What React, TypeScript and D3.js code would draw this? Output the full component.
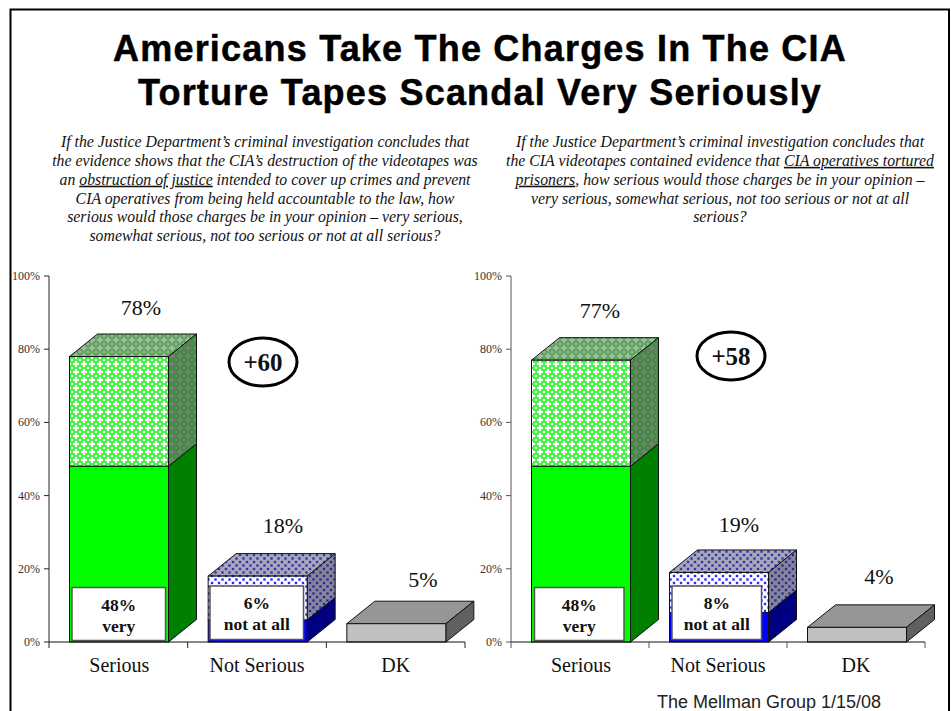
import * as d3 from "d3";

const titleLines = ["Americans Take The Charges In The CIA", "Torture Tapes Scandal Very Seriously"];
const categories = ["Serious", "Not Serious", "DK"];
const tickValues = [0, 20, 40, 60, 80, 100];

// totals and the "very" / "not at all" part of each stack, chart by chart
const leftTotals = [78, 18, 5];
const leftStrong = [48, 6, 0];
const rightTotals = [77, 19, 4];
const rightStrong = [48, 8, 0];
const leftBoxes = [["48%", "very"], ["6%", "not at all"]];
const rightBoxes = [["48%", "very"], ["8%", "not at all"]];

// [text, underlined] runs per line
const leftQuestion: [string, boolean][][] = [
  [["If the Justice Department\u2019s criminal investigation concludes that", false]],
  [["the evidence shows that the CIA\u2019s destruction of the videotapes was", false]],
  [["an ", false], ["obstruction of justice", true], [" intended to cover up crimes and prevent", false]],
  [["CIA operatives from being held accountable to the law, how", false]],
  [["serious would those charges be in your opinion \u2013 very serious,", false]],
  [["somewhat serious, not too serious or not at all serious?", false]],
];
const rightQuestion: [string, boolean][][] = [
  [["If the Justice Department\u2019s criminal investigation concludes that", false]],
  [["the CIA videotapes contained evidence that ", false], ["CIA operatives tortured", true]],
  [["prisoners", true], [", how serious would those charges be in your opinion \u2013", false]],
  [["very serious, somewhat serious, not too serious or not at all", false]],
  [["serious?", false]],
];

const SERIF = "'Liberation Serif', 'Times New Roman', serif";
const SANS = "'Liberation Sans', Arial, sans-serif";

// 3D look of the bars
const DEPTH_X = 28;
const DEPTH_Y = 22.5;
const BAR_W = 99;
const BAR_OFFSET = 20.5;

const palette = [
  { solid: "#00ff00", solidSide: "#008000", hatch: "url(#greenFront)", hatchTop: "url(#greenTop)", hatchSide: "url(#greenSide)" },
  { solid: "#0000ff", solidSide: "#000080", hatch: "url(#blueFront)", hatchTop: "url(#blueTop)", hatchSide: "url(#blueSide)" },
  { solid: "#c0c0c0", solidSide: "#606060", hatch: "#c0c0c0", hatchTop: "#969696", hatchSide: "#606060" },
];

type PanelProps = {
  x0: number;
  x1: number;
  totals: number[];
  strong: number[];
  boxes: string[][];
  boxX: number[][];
  boxY: number[][];
  labelPos: number[][];
  axisColor: string;
};

const poly = (pts: [number, number][]) => {
  const p = d3.path();
  pts.forEach(([a, b], i) => (i ? p.lineTo(a, b) : p.moveTo(a, b)));
  p.closePath();
  return p.toString();
};

const Panel = ({ x0, x1, totals, strong, boxes, boxX, boxY, labelPos, axisColor }: PanelProps) => {
  const y = d3.scaleLinear().domain([0, 100]).range([642, 276]);
  const x = d3.scaleBand<string>().domain(categories).range([x0, x1]);
  const edges = [...categories.map((c) => x(c) ?? 0), x1];

  return (
    <g>
      {categories.map((c, i) => {
        const left = (x(c) ?? 0) + BAR_OFFSET;
        const right = left + BAR_W;
        const top = y(totals[i]);
        const mid = y(strong[i]);
        const base = y(0);
        const col = palette[i];
        const split = strong[i] > 0;
        return (
          <g key={c} stroke="#111" strokeWidth={1}>
            <path
              d={poly([[left, top], [left + DEPTH_X, top - DEPTH_Y], [right + DEPTH_X, top - DEPTH_Y], [right, top]])}
              fill={col.hatchTop}
            />
            <path
              d={poly([[right, top], [right + DEPTH_X, top - DEPTH_Y], [right + DEPTH_X, mid - DEPTH_Y], [right, mid]])}
              fill={col.hatchSide}
            />
            {split && (
              <path
                d={poly([[right, mid], [right + DEPTH_X, mid - DEPTH_Y], [right + DEPTH_X, base - DEPTH_Y], [right, base]])}
                fill={col.solidSide}
              />
            )}
            <rect x={left} y={top} width={BAR_W} height={mid - top} fill={col.hatch} />
            {split && <rect x={left} y={mid} width={BAR_W} height={base - mid} fill={col.solid} />}
          </g>
        );
      })}

      {/* callout boxes over the two first bars */}
      {boxes.map((lines, i) => {
        const [l, r] = boxX[i];
        const [t, b] = boxY[i];
        return (
          <g key={lines[1]}>
            <rect x={l} y={t} width={r - l} height={b - t} fill="#fff" stroke="#555" strokeWidth={1.5} />
            {lines.map((line, k) => (
              <text
                key={line}
                x={(l + r) / 2}
                y={t + 23 + k * 21}
                textAnchor="middle"
                fontFamily={SERIF}
                fontWeight="bold"
                fontSize={17.5}
                fill="#111"
              >
                {line}
              </text>
            ))}
          </g>
        );
      })}

      {/* value labels */}
      {totals.map((v, i) => (
        <text key={i} x={labelPos[i][0]} y={labelPos[i][1]} textAnchor="middle" fontFamily={SERIF} fontSize={22} fill="#111">
          {v}%
        </text>
      ))}

      {/* axes */}
      <line x1={x0} x2={x0} y1={y(100)} y2={y(0)} stroke={axisColor} />
      <line x1={x0} x2={x1} y1={y(0)} y2={y(0)} stroke="#111" />
      {tickValues.map((t) => (
        <g key={t} transform={`translate(${x0}, ${y(t)})`}>
          <line x1={-5} x2={0} stroke={axisColor} />
          <text x={-9} y={4} textAnchor="end" fontFamily={SERIF} fontSize={12} fill="#333">
            {t}%
          </text>
        </g>
      ))}
      {edges.map((e) => (
        <line key={e} x1={e} x2={e} y1={y(0)} y2={y(0) + 6} stroke={axisColor} />
      ))}
      {categories.map((c, i) => (
        <text
          key={c}
          x={(x(c) ?? 0) + x.bandwidth() / 2 + (i === 0 ? 1 : 0)}
          y={672}
          textAnchor="middle"
          fontFamily={SERIF}
          fontSize={20}
          fill="#111"
        >
          {c}
        </text>
      ))}
    </g>
  );
};

const Question = ({ lines, cx }: { lines: [string, boolean][][]; cx: number }) => (
  <g fontFamily={SERIF} fontStyle="italic" fontSize={15.8} fill="#111" textAnchor="middle">
    {lines.map((runs, i) => (
      <text key={i} x={cx} y={147 + i * 18.85}>
        {runs.map(([t, u], k) => (
          <tspan key={k} textDecoration={u ? "underline" : undefined}>
            {t}
          </tspan>
        ))}
      </text>
    ))}
  </g>
);

const Badge = ({ cx, cy, label }: { cx: number; cy: number; label: string }) => (
  <g>
    <ellipse cx={cx} cy={cy} rx={34} ry={24} fill="#fff" stroke="#000" strokeWidth={3} />
    <text x={cx} y={cy + 9} textAnchor="middle" fontFamily={SERIF} fontWeight="bold" fontSize={25} fill="#111">
      {label}
    </text>
  </g>
);

// white plus signs and small squares on a green ground
const Lattice = ({ id, bg, fg }: { id: string; bg: string; fg: string }) => (
  <pattern id={id} width={8} height={8} patternUnits="userSpaceOnUse">
    <g shapeRendering="crispEdges">
      <rect width={8} height={8} fill={fg} />
      <rect x={3} y={1} width={2} height={6} fill={bg} />
      <rect x={1} y={3} width={6} height={2} fill={bg} />
      <rect x={0} y={0} width={1} height={1} fill={bg} />
      <rect x={7} y={0} width={1} height={1} fill={bg} />
      <rect x={0} y={7} width={1} height={1} fill={bg} />
      <rect x={7} y={7} width={1} height={1} fill={bg} />
    </g>
  </pattern>
);

const Dots = ({ id, bg, halo, fg }: { id: string; bg: string; halo: string; fg: string }) => (
  <pattern id={id} width={7} height={7} patternUnits="userSpaceOnUse">
    <rect width={7} height={7} fill={bg} />
    <rect x={0.5} y={0.5} width={3} height={3} fill={halo} />
    <rect x={4} y={4} width={3} height={3} fill={halo} />
    <rect x={1} y={1} width={2} height={2} fill={fg} />
    <rect x={4.5} y={4.5} width={2} height={2} fill={fg} />
  </pattern>
);

export default function App() {
  return (
    <svg
      width={951}
      height={711}
      viewBox="0 0 951 711"
      style={{ position: "absolute", left: 0, top: 0, background: "#fff" }}
    >
      <defs>
        <Lattice id="greenFront" bg="#ffffff" fg="#4cf04c" />
        <Lattice id="greenTop" bg="#a8b8a8" fg="#5da85d" />
        <Lattice id="greenSide" bg="#7c7c7c" fg="#3d8f3d" />
        <Dots id="blueFront" bg="#ffffff" halo="#b0b0ff" fg="#2a2aff" />
        <Dots id="blueTop" bg="#a8a8b8" halo="#8080b8" fg="#3333b0" />
        <Dots id="blueSide" bg="#85859f" halo="#6a6a98" fg="#2c2c80" />
      </defs>

      {/* page frame, open at the bottom */}
      <path d="M10.5 711V9.5H949V711" fill="none" stroke="#000" strokeWidth={2} />

      {titleLines.map((t, i) => (
        <text
          key={t}
          x={480}
          y={61 + i * 44}
          textAnchor="middle"
          fontFamily={SANS}
          fontWeight="bold"
          fontSize={36}
          letterSpacing={1.2}
          fill="#000"
          stroke="#000"
          strokeWidth={0.5}
        >
          {t}
        </text>
      ))}

      <Question lines={leftQuestion} cx={265} />
      <Question lines={rightQuestion} cx={720} />

      <Panel
        x0={49}
        x1={465}
        totals={leftTotals}
        strong={leftStrong}
        boxes={leftBoxes}
        boxX={[[72, 165.5], [210, 303.5]]}
        boxY={[[587.5, 640.5], [586, 639.5]]}
        labelPos={[[141, 315], [283, 533], [423, 587]]}
        axisColor="#222"
      />
      <Panel
        x0={511}
        x1={925}
        totals={rightTotals}
        strong={rightStrong}
        boxes={rightBoxes}
        boxX={[[534.5, 624], [672, 761.5]]}
        boxY={[[587.5, 640.5], [586, 639.5]]}
        labelPos={[[600, 318], [739, 532], [879, 584]]}
        axisColor="#555"
      />

      <Badge cx={263} cy={362} label="+60" />
      <Badge cx={731} cy={356} label="+58" />

      <text x={657} y={708} fontFamily={SANS} fontSize={18} fill="#222">
        The Mellman Group 1/15/08
      </text>
    </svg>
  );
}
